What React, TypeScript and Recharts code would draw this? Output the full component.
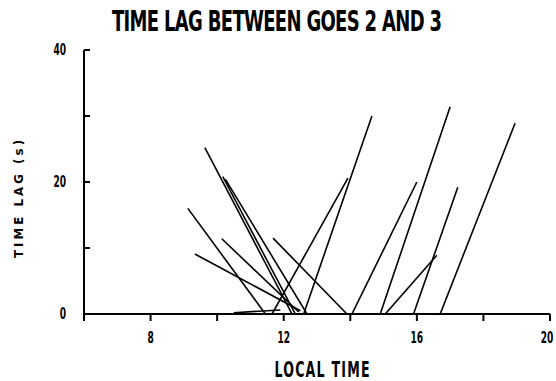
import React from "react";
import { LineChart, Line, XAxis, YAxis } from "recharts";

// segment end points (local time in hours, lag in s)
const startTime = [9.63, 10.17, 10.25, 9.12, 10.14, 9.33, 11.68, 11.65, 12.6, 14.05, 14.9, 15.05, 15.9, 16.7, 10.5];
const startLag = [25.2, 20.8, 20.4, 16.0, 11.4, 9.1, 11.5, 0, 0, 0, 0, 0, 0, 0, 0.2];
const endTime = [12.25, 12.35, 12.7, 11.45, 12.45, 12.5, 13.9, 13.93, 14.65, 16.0, 17.0, 16.6, 17.23, 18.95, 11.9];
const endLag = [0, 0, 0, 0, 0.3, 0.5, 0, 20.6, 30, 20, 31.4, 8.9, 19.2, 28.9, 0.6];

const xTicks = [6, 8, 10, 12, 14, 16, 18, 20];
const xTickLabels = [8, 12, 16, 20];
const yTicks = [0, 10, 20, 30, 40];
const yTickLabels = [0, 20, 40];

const segments = startTime.map((t, i) => [
  { x: t, y: startLag[i] },
  { x: endTime[i], y: endLag[i] },
]);

const font = "'DejaVu Sans Condensed', 'Liberation Sans Narrow', sans-serif";

const XTick = (props: any) => {
  const { x, y, payload } = props;
  const v = payload.value;
  const lx = v === 20 ? x - 3 : x;
  return (
    <g>
      <line x1={x} y1={y} x2={x} y2={y + 7} stroke="#000" strokeWidth={2} />
      {xTickLabels.includes(v) && (
        <g transform={`translate(${lx} ${y + 29}) scale(0.72 1.08)`}>
          <text x={0} y={0} textAnchor="middle" fontFamily={font} fontWeight="bold" fontSize={14} fill="#000">
            {v}
          </text>
        </g>
      )}
    </g>
  );
};

const YTick = (props: any) => {
  const { x, y, payload } = props;
  const v = payload.value;
  return (
    <g>
      <line x1={x} y1={y} x2={x + 6} y2={y} stroke="#000" strokeWidth={2} />
      {yTickLabels.includes(v) && (
        <g transform={`translate(${x - 18} ${y + 5}) scale(0.72 1.08)`}>
          <text x={0} y={0} textAnchor="end" fontFamily={font} fontWeight="bold" fontSize={14} fill="#000">
            {v}
          </text>
        </g>
      )}
    </g>
  );
};

export default function App() {
  return (
    <div style={{ position: "absolute", left: 0, top: 0, background: "#fff" }}>
      <LineChart width={556} height={381} margin={{ top: 50, right: 6, bottom: 27, left: 44 }}>
        <g transform="translate(277 31) scale(1 1.44)">
          <text x={0} y={0} textAnchor="middle" fontFamily={font} fontWeight="bold" fontSize={20} textLength={330} lengthAdjust="spacing" fill="#000">
            TIME LAG BETWEEN GOES 2 AND 3
          </text>
        </g>
        <XAxis
          type="number"
          dataKey="x"
          domain={[6, 20]}
          ticks={xTicks}
          interval={0}
          height={40}
          tickSize={0}
          tickMargin={0}
          tick={<XTick />}
          axisLine={{ stroke: "#000", strokeWidth: 2 }}
          allowDataOverflow
          label={{
            content: () => (
              <g transform="translate(322 377) scale(1 1.47)">
                <text x={0} y={0} textAnchor="middle" fontFamily={font} fontWeight="bold" fontSize={14} textLength={95} lengthAdjust="spacing" fill="#000">
                  LOCAL TIME
                </text>
              </g>
            ),
          }}
        />
        <YAxis
          type="number"
          dataKey="y"
          domain={[0, 40]}
          ticks={yTicks}
          interval={0}
          width={40}
          tickSize={0}
          tickMargin={0}
          tick={<YTick />}
          axisLine={{ stroke: "#000", strokeWidth: 2 }}
          allowDataOverflow
          label={{
            content: () => (
              <text x={23} y={199} transform="rotate(-90 23 199)" textAnchor="middle" fontFamily={font} fontWeight="bold" fontSize={13} textLength={118} lengthAdjust="spacing" fill="#000">
                TIME LAG (s)
              </text>
            ),
          }}
        />
        {segments.map((seg, i) => (
          <Line
            key={i}
            data={seg}
            dataKey="y"
            stroke="#000"
            strokeWidth={1.6}
            dot={false}
            activeDot={false}
            isAnimationActive={false}
          />
        ))}
      </LineChart>
    </div>
  );
}
